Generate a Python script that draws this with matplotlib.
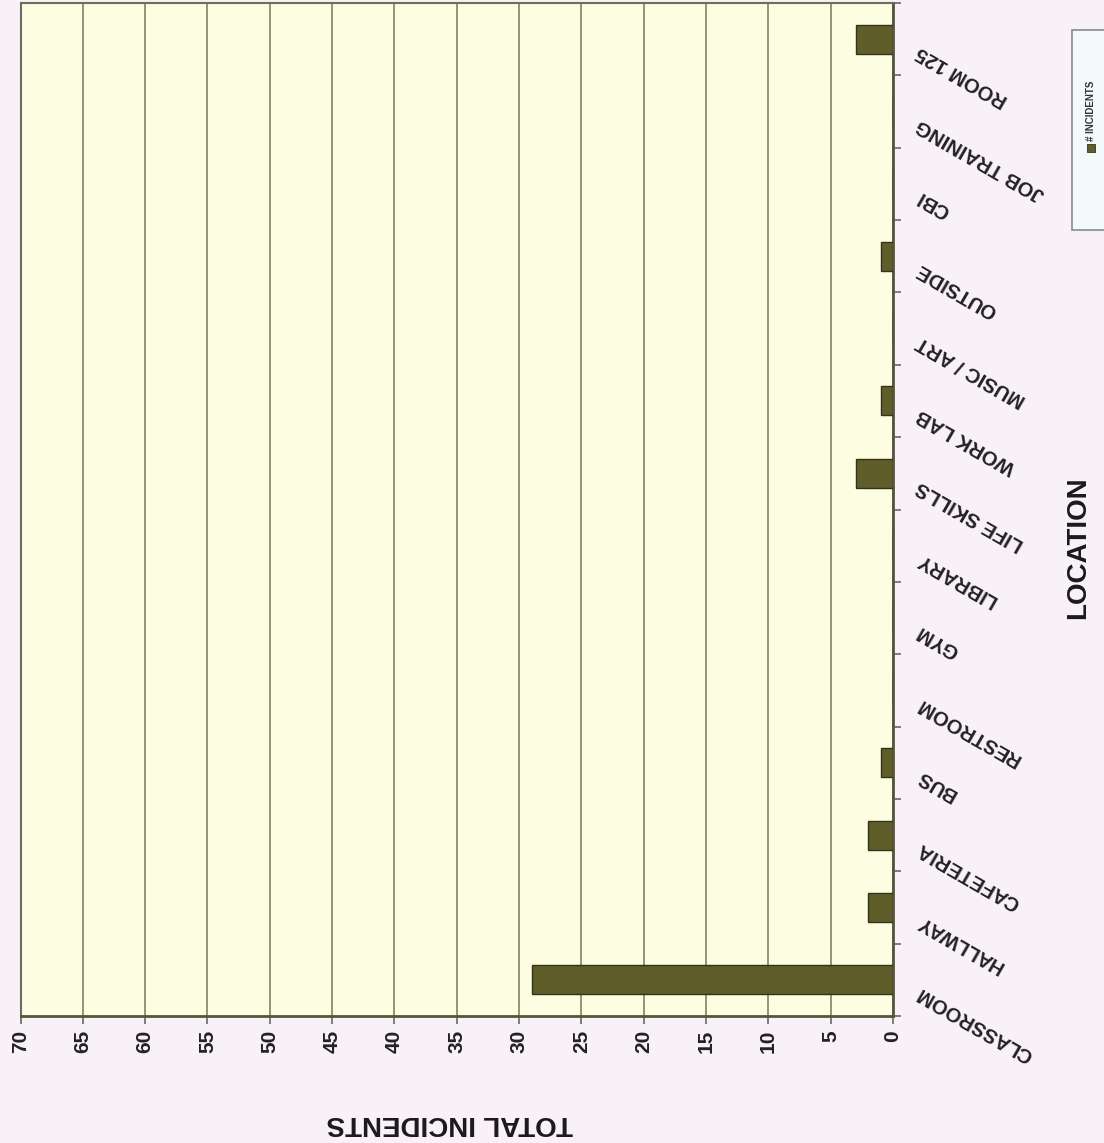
import matplotlib
matplotlib.use("Agg")
import matplotlib.pyplot as plt
from matplotlib.patches import Rectangle
from matplotlib.transforms import ScaledTranslation
import numpy as np

plt.rcParams['font.family'] = ['Liberation Sans', 'DejaVu Sans']

# Incident counts by location
locations = ["CLASSROOM", "HALLWAY", "CAFETERIA", "BUS", "RESTROOM", "GYM",
             "LIBRARY", "LIFE SKILLS", "WORK LAB", "MUSIC / ART", "OUTSIDE",
             "CBI", "JOB TRAINING", "ROOM 125"]
incidents = [29, 2, 2, 1, 0, 0, 0, 3, 1, 0, 1, 0, 0, 3]
value_ticks = list(range(0, 75, 5))
series_name = "# INCIDENTS"
x_label = "LOCATION"
y_label = "TOTAL INCIDENTS"

W, H = 1104, 1143
fig = plt.figure(figsize=(W / 100, H / 100), dpi=100, facecolor="#F8F2F8")

left, right, top, bottom = 20.5, 893, 3, 1016
ax = fig.add_axes([left / W, 1 - bottom / H, (right - left) / W, (bottom - top) / H])
ax.set_facecolor("#FDFDE2")

pos = np.arange(len(locations))
ax.barh(pos, incidents, height=0.4, color="#5F5E2B", edgecolor="#33331C",
        linewidth=1.0, zorder=3, label=series_name)

ax.set_xlim(70, 0)
ax.set_ylim(-0.5, len(locations) - 0.5)

# Value axis (drawn along the bottom, vertical tick labels)
ax.set_xticks(value_ticks)
ax.set_xticklabels([str(v) for v in value_ticks], rotation=90,
                   fontsize=15, fontweight="bold", color="#222222")
ax.tick_params(axis="x", direction="out", length=6, width=1.2,
               color="#6B6B55", pad=4)
ax.grid(axis="x", color="#8C8C72", linewidth=1.3, zorder=1)

# Category axis on the right side
ax.yaxis.tick_right()
ax.set_yticks(pos)
ax.set_yticklabels(locations, rotation=150, rotation_mode="anchor",
                   ha="right", va="center", fontsize=14.5, fontweight="bold",
                   color="#222222")
ax.tick_params(axis="y", which="major", length=0, pad=18)
ax.set_yticks(np.arange(-0.5, len(locations), 1.0), minor=True)
ax.tick_params(axis="y", which="minor", direction="out", length=6,
               width=1.2, color="#6B6B55")
shift = ScaledTranslation(0, -12 / 100, fig.dpi_scale_trans)
for lab in ax.get_yticklabels():
    lab.set_transform(lab.get_transform() + shift)

for name, sp in ax.spines.items():
    sp.set_color("#6E6E58")
    sp.set_linewidth(1.5)
ax.spines["bottom"].set_color("#55553F")
ax.spines["bottom"].set_linewidth(2)
ax.spines["right"].set_color("#55553F")
ax.spines["right"].set_linewidth(2)

# Axis titles
fig.text(450 / W, 1 - 1123 / H, y_label, rotation=180, ha="center",
         va="center", fontsize=20, fontweight="bold", color="#1A1A1A")
fig.text(1078 / W, 1 - 548 / H, x_label, rotation=90, ha="center",
         va="center", fontsize=20, fontweight="bold", color="#1A1A1A")

# Legend box
fig.patches.append(Rectangle((1072 / W, 1 - 230 / H), 60 / W, 200 / H,
                             transform=fig.transFigure, facecolor="#F3FAFB",
                             edgecolor="#8A8A8A", linewidth=1.2))
fig.patches.append(Rectangle((1087 / W, 1 - 152 / H), 8 / W, 8 / H,
                             transform=fig.transFigure, facecolor="#5F5E2B",
                             edgecolor="#33331C", linewidth=0.6))
fig.text(1091 / W, 1 - 111 / H, series_name, rotation=90, ha="center",
         va="center", fontsize=7, fontweight="bold", color="#333333")

fig.savefig("out.png", dpi=100, facecolor=fig.get_facecolor())
